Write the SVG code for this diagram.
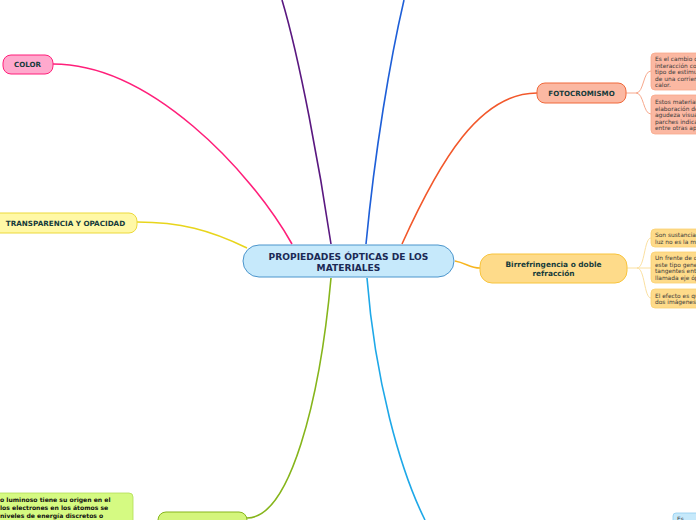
<svg xmlns="http://www.w3.org/2000/svg" width="696" height="520" viewBox="0 0 696 520">
<style>
.t{font-family:"DejaVu Sans",Verdana,sans-serif;font-weight:bold;fill:#163b3b;text-anchor:middle}
.leaf{font-family:"DejaVu Sans",Verdana,sans-serif;font-size:5.9px;fill:#3a3a3a}
.c{fill:none;stroke-width:1.6}
.lc{fill:none;stroke-width:1}
</style>
<rect width="696" height="520" fill="#ffffff"/>
<g id="connectors">
<path class="c" stroke="#ff1f7a" d="M292,244 C250,170 150,64 53,64"/>
<path class="c" stroke="#5a1880" d="M331,244 C320,170 300,60 282,0"/>
<path class="c" stroke="#1e5fd8" d="M366,244 C375,150 390,60 404,0"/>
<path class="c" stroke="#f2582b" d="M402,244 C440,160 480,93 537,93"/>
<path class="c" stroke="#f7b51f" d="M455,261 C466,263 470,268 480,268"/>
<path class="c" stroke="#e8d51c" d="M247,248 C210,230 180,222 137,222"/>
<path class="c" stroke="#86b51b" d="M331,278 C320,400 290,518 247,518"/>
<path class="c" stroke="#1ea8e8" d="M367,278 C375,380 400,470 425,520"/>
<path class="lc" stroke="#f7a88c" d="M626,93 L636,93 C644,93 643,71 651,71 M636,93 C644,93 643,114 651,114"/>
<path class="lc" stroke="#fbe0a0" d="M627,268 L637,268 C645,268 644,238 651,238 M637,268 L651,268 M637,268 C645,268 644,298 651,298"/>
</g>
<g id="center">
<rect x="243" y="245" width="211" height="32" rx="16" fill="#c6e9fb" stroke="#4b95cc" stroke-width="1"/>
<text class="t" style="fill:#1b2a55" font-size="9.1" x="348.5" y="259.5">PROPIEDADES ÓPTICAS DE LOS</text>
<text class="t" style="fill:#1b2a55" font-size="9.1" x="348.5" y="270.5">MATERIALES</text>
</g>
<g id="color">
<rect x="3" y="55" width="50" height="19" rx="8" fill="#ffa9cd" stroke="#ff1f7a" stroke-width="1"/>
<text class="t" font-size="7.1" x="27.5" y="67">COLOR</text>
</g>
<g id="transparencia">
<rect x="-12" y="213" width="149" height="20" rx="8" fill="#fff8a6" stroke="#ecd93a" stroke-width="1"/>
<text class="t" font-size="7.2" x="65.5" y="225.5">TRANSPARENCIA Y OPACIDAD</text>
</g>
<g id="fotocromismo">
<rect x="537" y="83" width="89" height="20" rx="8" fill="#fbb8a2" stroke="#f0683a" stroke-width="1"/>
<text class="t" font-size="7.1" x="581.5" y="95.5">FOTOCROMISMO</text>
</g>
<g id="foto-leaf1">
<rect x="651" y="53" width="60" height="37" rx="4" fill="#fbb8a2" stroke="#f9a88a" stroke-width="0.8"/>
<text class="leaf" x="655" y="61">Es el cambio de</text>
<text class="leaf" x="655" y="67.5">interacción con</text>
<text class="leaf" x="655" y="74">tipo de estimulo</text>
<text class="leaf" x="655" y="80.5">de una corriente</text>
<text class="leaf" x="655" y="87">calor.</text>
</g>
<g id="foto-leaf2">
<rect x="651" y="95" width="60" height="39" rx="4" fill="#fbb8a2" stroke="#f9a88a" stroke-width="0.8"/>
<text class="leaf" x="655" y="104">Estos materiales</text>
<text class="leaf" x="655" y="110.5">elaboración de</text>
<text class="leaf" x="655" y="117">agudeza visual</text>
<text class="leaf" x="655" y="123.5">parches indicad</text>
<text class="leaf" x="655" y="130">entre otras apli</text>
</g>
<g id="birrefringencia">
<rect x="480" y="254" width="147" height="29" rx="12" fill="#fedb8a" stroke="#f8c43c" stroke-width="1"/>
<text class="t" font-size="7.4" x="553.5" y="266.5">Birrefringencia o doble</text>
<text class="t" font-size="7.4" x="553.5" y="276">refracción</text>
</g>
<g id="birr-leaf1">
<rect x="651" y="229" width="60" height="18" rx="4" fill="#fedb8a" stroke="#fbd070" stroke-width="0.8"/>
<text class="leaf" x="655" y="237">Son sustancias</text>
<text class="leaf" x="655" y="243.5">luz no es la mis</text>
</g>
<g id="birr-leaf2">
<rect x="651" y="252" width="60" height="31" rx="4" fill="#fedb8a" stroke="#fbd070" stroke-width="0.8"/>
<text class="leaf" x="655" y="260">Un frente de on</text>
<text class="leaf" x="655" y="266.5">este tipo genera</text>
<text class="leaf" x="655" y="273">tangentes entre</text>
<text class="leaf" x="655" y="279.5">llamada eje ópt</text>
</g>
<g id="birr-leaf3">
<rect x="651" y="289" width="60" height="19" rx="4" fill="#fedb8a" stroke="#fbd070" stroke-width="0.8"/>
<text class="leaf" x="655" y="297.5">El efecto es que</text>
<text class="leaf" x="655" y="304">dos imágenes</text>
</g>
<g id="green-node">
<rect x="158" y="512" width="89" height="20" rx="8" fill="#d4f57c" stroke="#86b51b" stroke-width="1"/>
</g>
<g id="green-leaf">
<rect x="-10" y="493" width="143" height="40" rx="4" fill="#d5fa82" stroke="#b2dd55" stroke-width="0.8"/>
<text font-family="DejaVu Sans, Verdana, sans-serif" font-weight="bold" font-size="6.1" fill="#111" x="0" y="501.5">o luminoso tiene su origen en el</text>
<text font-family="DejaVu Sans, Verdana, sans-serif" font-weight="bold" font-size="6.1" fill="#111" x="0" y="509.5"> los electrones en los átomos se</text>
<text font-family="DejaVu Sans, Verdana, sans-serif" font-weight="bold" font-size="6.1" fill="#111" x="0" y="517.5">niveles de energía discretos o</text>
</g>
<g id="blue-leaf">
<rect x="673" y="513" width="40" height="20" rx="3" fill="#c6e9fb" stroke="#8fcdf0" stroke-width="0.8"/>
<text class="leaf" x="677" y="521">Es</text>
</g>
</svg>
